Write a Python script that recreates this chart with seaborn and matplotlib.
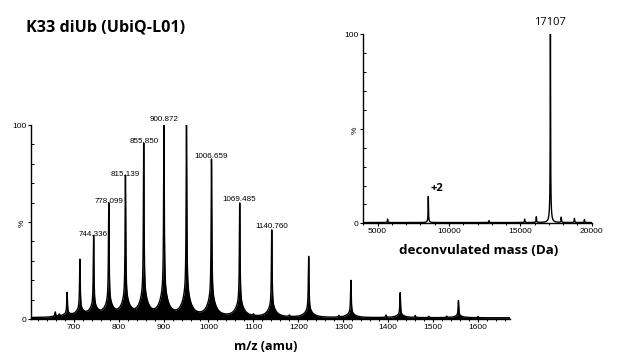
import numpy as np
import pandas as pd
import matplotlib
matplotlib.use("Agg")
import matplotlib.pyplot as plt
import seaborn as sns
from matplotlib.ticker import MultipleLocator, FixedLocator

# ---- data: ESI charge-state envelope (m/z, relative intensity %) ----
mz_peaks = [659.0, 685.3, 713.8, 744.336, 778.099, 815.139, 855.850, 900.872,
            951.0, 1006.659, 1069.485, 1140.760, 1222.9, 1316.9, 1426.6, 1556.2]
mz_heights = [2.5, 12.4, 29.2, 41.2, 57.9, 72.0, 88.8, 100.0,
              99.6, 81.0, 58.8, 45.0, 31.6, 19.2, 12.9, 8.9]
mz_labels = ["", "", "", "744.336", "778.099", "815.139", "855.850", "900.872",
             "", "1006.659", "1069.485", "1140.760", "", "", "", ""]
mz_minor = [668.0, 1100.0, 1180.0, 1290.0, 1395.0, 1460.0, 1490.0, 1530.0, 1600.0]
mz_minor_h = [1.0, 0.8, 0.8, 0.8, 1.2, 1.0, 0.7, 0.7, 0.6]

# ---- data: deconvoluted mass spectrum (Da, relative intensity %) ----
da_peaks = [5700, 8553.5, 12800, 15300, 16120, 17107, 17866, 18790, 19490]
da_heights = [1.8, 13.8, 1.0, 1.8, 3.0, 100.0, 2.8, 2.2, 1.6]
da_labels = ["", "+2", "", "", "", "17107", "", "", ""]

title = "K33 diUb (UbiQ-L01)"


def profile(grid, centers, heights, g_narrow, g_wide, w_wide):
    y = np.zeros_like(grid)
    for c, h in zip(centers, heights):
        d = grid - c
        y += h * ((1 - w_wide) / (1 + (d / g_narrow) ** 2) + w_wide / (1 + (d / g_wide) ** 2))
    return y


sns.set_style("ticks")
plt.rcParams['font.family'] = ['Liberation Sans', 'DejaVu Sans']
for k in ("text.color", "axes.labelcolor", "xtick.color", "ytick.color", "axes.edgecolor"):
    plt.rcParams[k] = "black"

fig = plt.figure(figsize=(6.19, 3.56), dpi=100)
bold_font = ["Open Sans", "DejaVu Sans"]

# ---------------- main spectrum ----------------
ax = fig.add_axes([31 / 619, 1 - 319 / 356, (510 - 31) / 619, (319 - 125) / 356])
grid = np.linspace(605, 1671, 8000)
y = profile(grid, mz_peaks, mz_heights, 0.9, 10.0, 0.12) \
    + profile(grid, mz_minor, mz_minor_h, 0.8, 2.0, 0.2) + 0.6
df = pd.DataFrame({"mz": grid, "int": y})
sns.lineplot(data=df, x="mz", y="int", ax=ax, color="black", lw=1.0,
             estimator=None, errorbar=None)
ax.fill_between(grid, 0, y, color="black", lw=0)
for x0, h, lab in zip(mz_peaks, mz_heights, mz_labels):
    if lab:
        ax.text(x0, h + 0.8, lab, ha="center", va="bottom", fontsize=5.8)

ax.set_xlim(605, 1671)
ax.set_ylim(0, 100)
ax.xaxis.set_major_locator(MultipleLocator(100))
ax.xaxis.set_minor_locator(MultipleLocator(20))
ax.yaxis.set_major_locator(FixedLocator([0, 50, 100]))
ax.set_yticklabels(["0", "%", "100"])
ax.get_yticklabels()[1].set_rotation(90)
ax.yaxis.set_minor_locator(MultipleLocator(10))
ax.tick_params(axis="both", which="major", labelsize=6, length=2.5, width=0.8, pad=1)
ax.tick_params(axis="y", which="minor", direction="in", length=2, width=0.7)
ax.tick_params(axis="x", which="minor", direction="out", length=1.5, width=0.7)
ax.set_xlabel("m/z (amu)", fontsize=9, fontweight="bold", family=bold_font)
ax.xaxis.set_label_coords((265.7 - 31) / (510 - 31), -0.11)
ax.set_ylabel("")
ax.spines["top"].set_visible(False)
ax.spines["right"].set_visible(False)
for s in ("left", "bottom"):
    ax.spines[s].set_linewidth(1.0)

# ---------------- inset: deconvoluted mass ----------------
ax2 = fig.add_axes([363.3 / 619, 1 - 223.3 / 356, (591.7 - 363.3) / 619, (223.3 - 34.3) / 356])
grid2 = np.linspace(4000, 20000, 8000)
y2 = profile(grid2, da_peaks, da_heights, 14, 60, 0.1) + 0.4
df2 = pd.DataFrame({"mass": grid2, "int": y2})
sns.lineplot(data=df2, x="mass", y="int", ax=ax2, color="black", lw=1.0,
             estimator=None, errorbar=None)
for x0, h, lab in zip(da_peaks, da_heights, da_labels):
    if lab == "+2":
        ax2.text(x0 + 150, h + 1.5, lab, ha="left", va="bottom", fontsize=8,
                 fontweight="bold", family=bold_font)
    elif lab:
        ax2.text(x0, h + 3.5, lab, ha="center", va="bottom", fontsize=8,
                 family=bold_font)

ax2.set_xlim(4000, 20000)
ax2.set_ylim(0, 100)
ax2.xaxis.set_major_locator(MultipleLocator(5000))
ax2.xaxis.set_minor_locator(MultipleLocator(1000))
ax2.yaxis.set_major_locator(FixedLocator([0, 50, 100]))
ax2.set_yticklabels(["0", "%", "100"])
ax2.get_yticklabels()[1].set_rotation(90)
ax2.yaxis.set_minor_locator(MultipleLocator(10))
ax2.tick_params(axis="both", which="major", labelsize=6, length=2.5, width=0.8, pad=1)
ax2.tick_params(axis="y", which="minor", direction="in", length=2, width=0.7)
ax2.tick_params(axis="x", which="minor", direction="out", length=1.5, width=0.7)
ax2.set_xlabel("deconvulated mass (Da)", fontsize=9.6, fontweight="bold", family=bold_font)
ax2.xaxis.set_label_coords((478.3 - 363.3) / (591.7 - 363.3), -0.11)
ax2.set_ylabel("")
ax2.spines["top"].set_visible(False)
ax2.spines["right"].set_visible(False)
for s in ("left", "bottom"):
    ax2.spines[s].set_linewidth(1.0)

fig.text(26 / 619, 1 - 27.7 / 356, title, ha="left", va="center", fontsize=11.6,
         fontweight="bold", family=bold_font)

fig.savefig("out.png", dpi=100, facecolor="white")
